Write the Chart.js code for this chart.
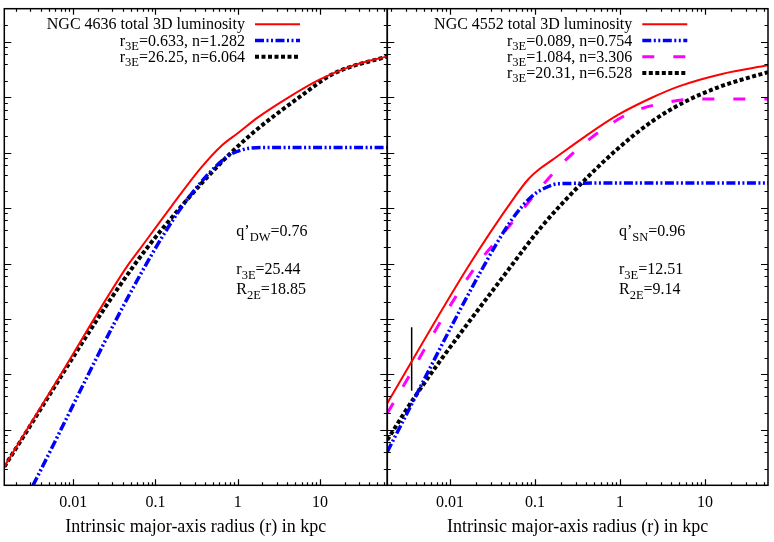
<!DOCTYPE html>
<html>
<head>
<meta charset="utf-8">
<script src="https://cdn.jsdelivr.net/npm/chart.js@4.4.1/dist/chart.umd.min.js"></script>
<style>
  body { margin: 0; background: #fff; }
  #wrap { position: relative; width: 774px; height: 542px; overflow: hidden; }
  canvas { position: absolute; top: 0; }
</style>
</head>
<body>
<div id="wrap">
  <canvas id="left" width="390" height="542" style="left:0px"></canvas>
  <canvas id="right" width="390" height="542" style="left:384px"></canvas>
</div>
<script>
// x tick labels (kpc)
const xTickValues = [0.01, 0.1, 1, 10];
const xTickLabels = ['0.01', '0.1', '1', '10'];

// ---- NGC 4636 (left panel) ----
const r4636Total = [0.00145, 0.00631, 0.0447, 0.0631, 0.158, 0.355, 0.631, 1, 1.78, 3.98, 10, 25.1, 66];
const L4636Total = [2.17, 76.4, 8710, 1.74e4, 1.10e5, 5.25e5, 1.32e6, 2.24e6, 4.37e6, 9.55e6, 2.09e7, 3.72e7, 5.45e7];
const r4636Inner = [0.00324, 0.0705, 0.2415, 0.741, 1.14, 1.69, 5, 66];
const L4636Inner = [1, 7690, 1.41e5, 8.43e5, 1.13e6, 1.23e6, 1.24e6, 1.24e6];
const r4636Outer = [0.00145, 0.0532, 0.2415, 0.741, 1.535, 2.69, 5.72, 14.4, 66];
const L4636Outer = [2.17, 8710, 1.41e5, 8.43e5, 2.29e6, 4.45e6, 1.02e7, 2.63e7, 5.45e7];

// ---- NGC 4552 (right panel) ----
const r4552Total = [0.00183, 0.0164, 0.0562, 0.0834, 0.112, 0.157, 0.387, 0.955, 2.36, 5.01, 15.85, 55.1];
const L4552Total = [30.2, 8830, 1.50e5, 3.31e5, 5.01e5, 7.24e5, 1.95e6, 4.83e6, 9.77e6, 1.585e7, 2.63e7, 3.76e7];
const r4552Inner = [0.00183, 0.0236, 0.0532, 0.0914, 0.131, 0.188, 1, 55.1];
const L4552Inner = [4.04, 7690, 6.15e4, 1.62e5, 2.30e5, 2.75e5, 2.83e5, 2.83e5];
const r4552Mid = [0.00183, 0.0188, 0.0501, 0.164, 0.31, 0.637, 1.31, 3.24, 7.98, 55.1];
const L4552Mid = [19.9, 7690, 4.8e4, 4.29e5, 1.13e6, 2.67e6, 5.19e6, 7.85e6, 9.29e6, 9.29e6];
const r4552Outer = [0.00183, 0.00387, 0.0485, 0.120, 0.387, 0.955, 2.36, 5.82, 14.3, 35.4, 55.1];
const L4552Outer = [6.58, 39.7, 7690, 4.66e4, 3.24e5, 1.20e6, 3.63e6, 8.32e6, 1.51e7, 2.34e7, 2.82e7];
// vertical marker in the right panel
const r4552Bar = [0.00354, 0.00354];
const L4552Bar = [51, 711];

const MAIN_FONT = '16px "Liberation Serif"';
const SUB_FONT = '12.5px "Liberation Serif"';

function pts(xs, ys) {
  return xs.map((x, i) => ({ x: x, y: ys[i] }));
}

// split "r_{3E}=..." into normal / subscript parts
function parseRich(s) {
  const parts = [];
  const re = /_\{([^}]*)\}/g;
  let last = 0, m;
  while ((m = re.exec(s))) {
    if (m.index > last) parts.push({ t: s.slice(last, m.index), sub: false });
    parts.push({ t: m[1], sub: true });
    last = re.lastIndex;
  }
  if (last < s.length) parts.push({ t: s.slice(last), sub: false });
  return parts;
}

function drawRich(ctx, s, x, y, align) {
  const parts = parseRich(s);
  let w = 0;
  parts.forEach(p => {
    ctx.font = p.sub ? SUB_FONT : MAIN_FONT;
    p.w = ctx.measureText(p.t).width;
    w += p.w;
  });
  let cx = align === 'right' ? x - w : x;
  ctx.textAlign = 'left';
  ctx.textBaseline = 'alphabetic';
  ctx.fillStyle = '#000';
  parts.forEach(p => {
    ctx.font = p.sub ? SUB_FONT : MAIN_FONT;
    ctx.fillText(p.t, cx, y + (p.sub ? 4.5 : 0));
    cx += p.w;
  });
}

// frame, inward ticks on all sides, legend and notes
const panelDecor = {
  id: 'panelDecor',
  afterDatasetsDraw(chart, args, opts) {
    const ctx = chart.ctx;
    const a = chart.chartArea;
    const xs = chart.scales.x, ys = chart.scales.y;
    ctx.save();
    ctx.strokeStyle = '#000';
    ctx.lineWidth = 1.2;
    ctx.setLineDash([]);
    ctx.beginPath();
    for (let k = -3; k <= 2; k++) {
      for (let m = 1; m <= 9; m++) {
        const v = m * Math.pow(10, k);
        if (v < xs.min || v > xs.max) continue;
        const px = Math.round(xs.getPixelForValue(v)) + 0.5;
        const len = m === 1 ? 6 : 3;
        ctx.moveTo(px, a.bottom); ctx.lineTo(px, a.bottom - len);
        ctx.moveTo(px, a.top); ctx.lineTo(px, a.top + len);
      }
    }
    for (let k = 0; k <= 8; k++) {
      [1, 2, 4, 6, 8].forEach(m => {
        const v = m * Math.pow(10, k);
        if (v < ys.min || v > ys.max) return;
        const py = Math.round(ys.getPixelForValue(v)) + 0.5;
        const len = m === 1 ? 7 : 3.5;
        ctx.moveTo(a.left, py); ctx.lineTo(a.left + len, py);
        ctx.moveTo(a.right, py); ctx.lineTo(a.right - len, py);
      });
    }
    ctx.stroke();
    ctx.lineWidth = 1.5;
    ctx.strokeRect(a.left, a.top, a.right - a.left, a.bottom - a.top);

    // legend
    const textRight = a.right - opts.legendRight;
    let row = 0;
    chart.data.datasets.forEach(ds => {
      if (!ds.label) return;
      const base = opts.legendTop + row * 16.2;
      drawRich(ctx, ds.label, textRight, base, 'right');
      ctx.beginPath();
      ctx.strokeStyle = ds.borderColor;
      ctx.lineWidth = ds.borderWidth;
      ctx.setLineDash(ds.borderDash || []);
      ctx.moveTo(textRight + 10, base - 5);
      ctx.lineTo(textRight + 55, base - 5);
      ctx.stroke();
      row++;
    });
    ctx.setLineDash([]);

    // notes
    opts.notes.forEach(n => drawRich(ctx, n.text, a.left + opts.notesX, n.y, 'left'));
    ctx.restore();
  }
};

function makeScales(xmin, xmax) {
  return {
    x: {
      type: 'logarithmic', min: xmin, max: xmax,
      grid: { display: false, drawTicks: false },
      border: { display: false },
      afterBuildTicks: s => { s.ticks = xTickValues.map(v => ({ value: v })); },
      afterFit: s => { s.height = 56.7; },
      ticks: {
        color: '#000', padding: 8, autoSkip: false, maxRotation: 0,
        font: { family: 'Liberation Serif', size: 16 },
        callback: v => xTickLabels[xTickValues.indexOf(v)]
      },
      title: {
        display: true, text: 'Intrinsic major-axis radius (r) in kpc', color: '#000',
        font: { family: 'Liberation Serif', size: 18 }, padding: { top: 0, bottom: 4 }
      }
    },
    y: { type: 'logarithmic', min: 1, max: 3.95e8, display: false }
  };
}

const redStyle = { borderColor: '#ff0000', borderWidth: 2, borderDash: [] };
const blueStyle = { borderColor: '#0000ff', borderWidth: 3.5, borderDash: [9, 2.5, 2, 2.5, 2, 2.5] };
const blackStyle = { borderColor: '#000000', borderWidth: 4, borderDash: [4, 2.5] };
const magentaStyle = { borderColor: '#ff00ff', borderWidth: 3, borderDash: [12, 19] };

function line(label, xs, ys, style) {
  return Object.assign({
    label: label, data: pts(xs, ys), pointRadius: 0,
    cubicInterpolationMode: 'monotone', fill: false
  }, style);
}

Chart.defaults.animation = false;

new Chart(document.getElementById('left'), {
  type: 'line',
  data: {
    datasets: [
      line('NGC 4636 total 3D luminosity', r4636Total, L4636Total, redStyle),
      line('r_{3E}=0.633, n=1.282', r4636Inner, L4636Inner, blueStyle),
      line('r_{3E}=26.25, n=6.064', r4636Outer, L4636Outer, blackStyle)
    ]
  },
  options: {
    responsive: false, devicePixelRatio: 1,
    layout: { padding: { left: 4.3, right: 2.7, top: 8.7, bottom: 0 } },
    scales: makeScales(0.00145, 66),
    plugins: {
      legend: { display: false }, tooltip: { enabled: false },
      panelDecor: {
        legendRight: 142.3, legendTop: 29.3, notesX: 232,
        notes: [
          { text: 'q’_{DW}=0.76', y: 236 },
          { text: 'r_{3E}=25.44', y: 274 },
          { text: 'R_{2E}=18.85', y: 294 }
        ]
      }
    }
  },
  plugins: [panelDecor]
});

new Chart(document.getElementById('right'), {
  type: 'line',
  data: {
    datasets: [
      line('NGC 4552 total 3D luminosity', r4552Total, L4552Total, redStyle),
      line('r_{3E}=0.089, n=0.754', r4552Inner, L4552Inner, blueStyle),
      line('r_{3E}=1.084, n=3.306', r4552Mid, L4552Mid, magentaStyle),
      line('r_{3E}=20.31, n=6.528', r4552Outer, L4552Outer, blackStyle),
      line('', r4552Bar, L4552Bar, { borderColor: '#000', borderWidth: 1.5, borderDash: [] })
    ]
  },
  options: {
    responsive: false, devicePixelRatio: 1,
    layout: { padding: { left: 3.3, right: 6, top: 8.7, bottom: 0 } },
    scales: makeScales(0.00183, 55.1),
    plugins: {
      legend: { display: false }, tooltip: { enabled: false },
      panelDecor: {
        legendRight: 135.7, legendTop: 29.3, notesX: 231.7,
        notes: [
          { text: 'q’_{SN}=0.96', y: 236 },
          { text: 'r_{3E}=12.51', y: 274 },
          { text: 'R_{2E}=9.14', y: 294 }
        ]
      }
    }
  },
  plugins: [panelDecor]
});
</script>
</body>
</html>
